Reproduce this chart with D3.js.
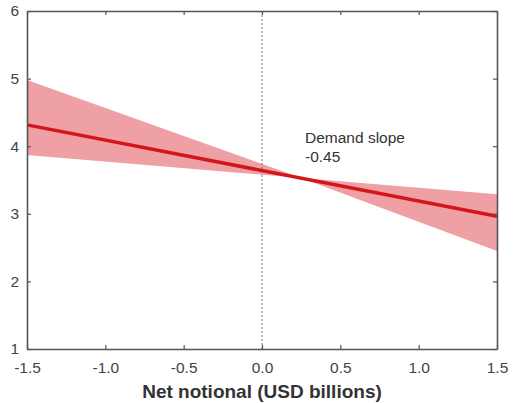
<!DOCTYPE html>
<html>
<head>
<meta charset="utf-8">
<script src="https://cdn.jsdelivr.net/npm/d3@7"></script>
<style>
  html, body { margin: 0; padding: 0; background: #fff; }
  svg { display: block; font-family: "Liberation Sans", Arial, sans-serif; }
</style>
</head>
<body>
<svg id="chart" width="513" height="403"></svg>
<script>
// Fitted demand curve
const slope = -0.45;
const intercept = 3.64;
const fitX = [-1.5, 1.5];

// Confidence band (edges pivot near x = 0.25)
const bandX = [-1.5, 0.25, 1.5];
const bandUpper = [4.98, 3.53, 3.29];
const bandLower = [3.87, 3.53, 2.45];

// Axis ticks
const xTicks = [-1.5, -1.0, -0.5, 0.0, 0.5, 1.0, 1.5];
const yTicks = [1, 2, 3, 4, 5, 6];

const xTitle = "Net notional (USD billions)";
const noteLines = ["Demand slope", "-0.45"];

const svg = d3.select("#chart");
const m = { left: 27, right: 16, top: 11, bottom: 54 };
const W = 513, H = 403;

const x = d3.scaleLinear().domain([-1.5, 1.5]).range([m.left, W - m.right]);
const y = d3.scaleLinear().domain([1, 6]).range([H - m.bottom, m.top]);

const axisColor = "#555";
const textColor = "#444";

// band
const bandData = bandX.map((d, i) => ({ x: d, lo: bandLower[i], hi: bandUpper[i] }));
svg.append("path")
  .datum(bandData)
  .attr("fill", "#eea0a4")
  .attr("d", d3.area().x(d => x(d.x)).y0(d => y(d.lo)).y1(d => y(d.hi)));

// zero reference line
svg.append("line")
  .attr("x1", x(0)).attr("x2", x(0))
  .attr("y1", y(1)).attr("y2", y(6))
  .attr("stroke", "#777").attr("stroke-width", 1)
  .attr("stroke-dasharray", "2,2");

// fitted line
const fitData = fitX.map(d => ({ x: d, y: intercept + slope * d }));
svg.append("path")
  .datum(fitData)
  .attr("fill", "none")
  .attr("stroke", "#d4161c")
  .attr("stroke-width", 3.5)
  .attr("d", d3.line().x(d => x(d.x)).y(d => y(d.y)));

// axes (ticks point inward, mirrored on top and right)
function styleAxis(g) {
  g.select(".domain").attr("stroke", axisColor).attr("stroke-width", 1.6);
  g.selectAll(".tick line").attr("stroke", axisColor).attr("stroke-width", 1.2);
  g.selectAll(".tick text").attr("fill", textColor).attr("font-size", 15.5);
}

const fmtX = d => d.toFixed(1);

svg.append("g")
  .attr("transform", `translate(0,${y(1)})`)
  .call(d3.axisBottom(x).tickValues(xTicks).tickFormat(fmtX).tickSizeInner(-4).tickSizeOuter(0).tickPadding(13))
  .call(styleAxis);

svg.append("g")
  .attr("transform", `translate(0,${y(6)})`)
  .call(d3.axisTop(x).tickValues(xTicks).tickFormat("").tickSizeInner(-4).tickSizeOuter(0))
  .call(styleAxis);

svg.append("g")
  .attr("transform", `translate(${x(-1.5)},0)`)
  .call(d3.axisLeft(y).tickValues(yTicks).tickFormat(d3.format("d")).tickSizeInner(-4).tickSizeOuter(0).tickPadding(8))
  .call(styleAxis);

svg.append("g")
  .attr("transform", `translate(${x(1.5)},0)`)
  .call(d3.axisRight(y).tickValues(yTicks).tickFormat("").tickSizeInner(-4).tickSizeOuter(0))
  .call(styleAxis);

svg.selectAll("g text").attr("font-family", "'Liberation Sans', Arial, sans-serif");

// axis title
svg.append("text")
  .attr("x", x(0)).attr("y", 398)
  .attr("text-anchor", "middle")
  .attr("font-size", 19).attr("font-weight", "bold")
  .attr("fill", "#333")
  .text(xTitle);

// annotation
svg.append("g").selectAll("text")
  .data(noteLines)
  .join("text")
  .attr("x", 305)
  .attr("y", (d, i) => 143 + i * 19)
  .attr("font-size", 15.5)
  .attr("fill", "#333")
  .text(d => d);
</script>
</body>
</html>
